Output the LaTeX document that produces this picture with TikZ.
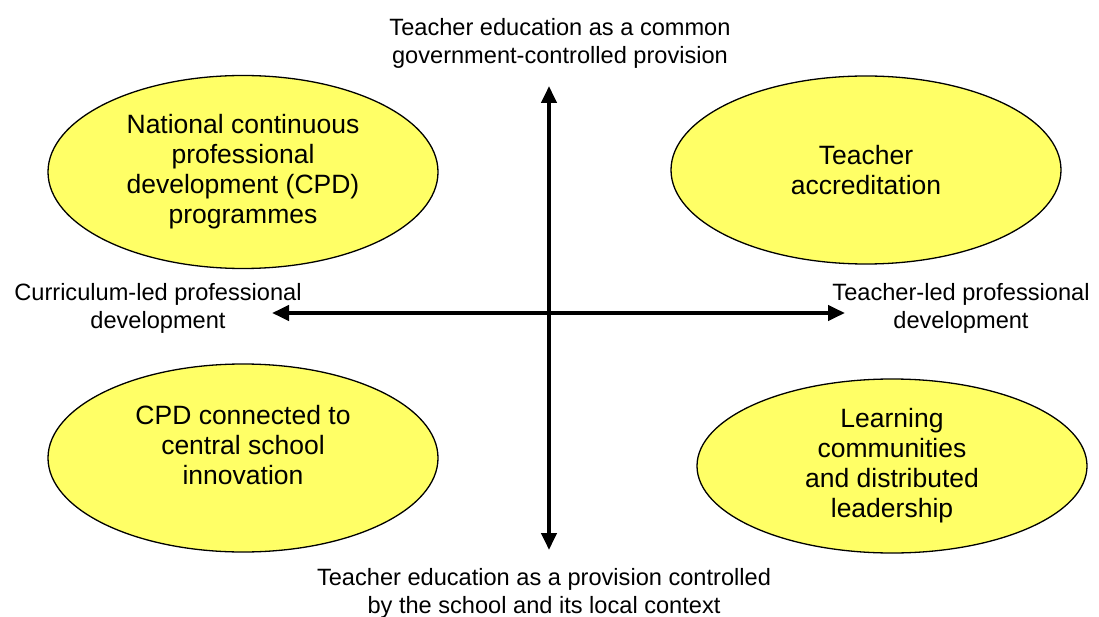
\documentclass[tikz,border=0pt]{standalone}
\usepackage{fontspec}
\setmainfont{Liberation Sans}
\usetikzlibrary{arrows.meta, shapes.geometric, positioning}
\definecolor{spotYellow}{RGB}{255,255,102}
\tikzset{
    spot/.style={ellipse, draw, line width=1.3pt, fill=spotYellow, inner sep=0pt,
        minimum width=390pt, minimum height=#1, align=center,
        font=\fontsize{26.5}{30}\selectfont},
    spot/.default=188pt,
    axisLabel/.style={align=center, inner sep=0pt, font=\fontsize{23.6}{28}\selectfont},
    axisArrow/.style={{Triangle[length=17pt,width=15pt]}-{Triangle[length=17pt,width=15pt]}, line width=4pt},
}
\begin{document}
\begin{tikzpicture}[x=1pt, y=-1pt]
    \useasboundingbox (0,0) rectangle (1099,617);

    % axis end points
    \coordinate (top) at (549,86);
    \coordinate (bottom) at (549,550);
    \coordinate (left) at (272,313);
    \coordinate (right) at (845,313);

    \draw[axisArrow] (top) -- (bottom);
    \draw[axisArrow] (left) -- (right);

    \node[axisLabel] (topLbl) at (560,43) {Teacher education as a common\\government-controlled provision};
    \node[axisLabel] (botLbl) at (544,593) {Teacher education as a provision controlled\\by the school and its local context};
    \node[axisLabel] (leftLbl) at (158,308) {Curriculum-led professional\\development};
    \node[axisLabel] (rightLbl) at (961,308) {Teacher-led professional\\development};

    % quadrants
    \node[spot=193pt] (national) at (243,172) {National continuous\\professional\\development (CPD)\\programmes};
    \node[spot] (accred) at (866,170) {Teacher\\accreditation};
    \node[spot, text depth=26pt] (central) at (243,458) {CPD connected to\\central school\\innovation};
    \node[spot=174pt] (learning) at (892,466) {Learning\\communities\\and distributed\\leadership};

\end{tikzpicture}
\end{document}
